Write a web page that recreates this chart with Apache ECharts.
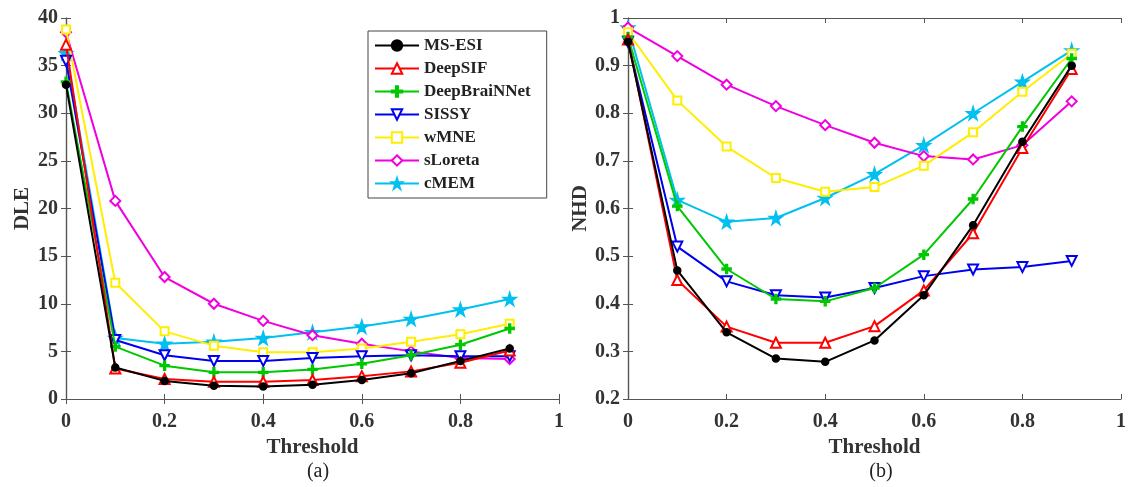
<!DOCTYPE html>
<html>
<head>
<meta charset="utf-8">
<script src="https://cdn.jsdelivr.net/npm/echarts@6/dist/echarts.min.js"></script>
<style>
  html, body { margin: 0; padding: 0; background: #fff; }
  #main { width: 1129px; height: 487px; }
</style>
</head>
<body>
<div id="main"></div>
<script>
var thresholds = [0, 0.1, 0.2, 0.3, 0.4, 0.5, 0.6, 0.7, 0.8, 0.9];
var methods = ['MS-ESI', 'DeepSIF', 'DeepBraiNNet', 'SISSY', 'wMNE', 'sLoreta', 'cMEM'];

// (a) DLE
var dleMsEsi   = [33.0, 3.3, 1.9, 1.4, 1.3, 1.5, 2.0, 2.7, 4.0, 5.3];
var dleDeepSIF = [37.2, 3.2, 2.1, 1.8, 1.8, 2.0, 2.4, 2.9, 3.8, 5.1];
var dleDeepBNN = [33.3, 5.5, 3.5, 2.8, 2.8, 3.1, 3.7, 4.6, 5.7, 7.4];
var dleSissy   = [35.5, 6.2, 4.6, 4.0, 4.0, 4.3, 4.5, 4.6, 4.5, 4.5];
var dleWmne    = [38.8, 12.2, 7.1, 5.6, 4.9, 4.9, 5.3, 6.0, 6.8, 7.9];
var dleSloreta = [38.5, 20.8, 12.8, 10.0, 8.2, 6.7, 5.8, 5.0, 4.3, 4.2];
var dleCmem    = [36.3, 6.4, 5.8, 6.0, 6.4, 7.0, 7.6, 8.4, 9.4, 10.5];

// (b) NHD
var nhdMsEsi   = [0.950, 0.470, 0.340, 0.285, 0.278, 0.323, 0.418, 0.565, 0.740, 0.900];
var nhdDeepSIF = [0.955, 0.450, 0.352, 0.318, 0.318, 0.353, 0.428, 0.548, 0.727, 0.893];
var nhdDeepBNN = [0.960, 0.605, 0.473, 0.410, 0.405, 0.433, 0.503, 0.620, 0.772, 0.915];
var nhdSissy   = [0.950, 0.520, 0.447, 0.418, 0.413, 0.433, 0.458, 0.472, 0.477, 0.490];
var nhdWmne    = [0.970, 0.827, 0.730, 0.664, 0.635, 0.645, 0.690, 0.760, 0.845, 0.925];
var nhdSloreta = [0.980, 0.920, 0.860, 0.815, 0.775, 0.738, 0.710, 0.703, 0.733, 0.825];
var nhdCmem    = [0.980, 0.618, 0.572, 0.580, 0.622, 0.672, 0.733, 0.800, 0.866, 0.932];

var dleData = [dleMsEsi, dleDeepSIF, dleDeepBNN, dleSissy, dleWmne, dleSloreta, dleCmem];
var nhdData = [nhdMsEsi, nhdDeepSIF, nhdDeepBNN, nhdSissy, nhdWmne, nhdSloreta, nhdCmem];

var colors = ['#000000', '#ff0000', '#00c800', '#0000f0', '#ffee00', '#f000e0', '#00c0f0'];
var plusPath = 'path://M4,0 L6,0 L6,4 L10,4 L10,6 L6,6 L6,10 L4,10 L4,6 L0,6 L0,4 L4,4 Z';
var starPath = 'path://M50,0 L61,35 L98,35 L68,57 L79,91 L50,70 L21,91 L32,57 L2,35 L39,35 Z';
var symbols = ['circle', 'emptyTriangle', plusPath, 'emptyTriangle', 'emptyRect', 'emptyDiamond', starPath];
var symbolSizes = [7, 10, 9, 10, 8, 10, 13];
var symbolRotates = [0, 0, 0, 180, 0, 0, 0];

var font = 'Liberation Serif';
var axisColor = '#555';

function makeSeries(data, axisIdx) {
    var out = [];
    for (var i = 0; i < methods.length; i++) {
        var pts = [];
        for (var j = 0; j < thresholds.length; j++) {
            pts.push([thresholds[j], data[i][j]]);
        }
        out.push({
            name: methods[i],
            type: 'line',
            xAxisIndex: axisIdx * 2,
            yAxisIndex: axisIdx * 2,
            data: pts,
            symbol: symbols[i],
            symbolSize: symbolSizes[i],
            symbolRotate: symbolRotates[i],
            showAllSymbol: true,
            lineStyle: { color: colors[i], width: 2 },
            itemStyle: { color: colors[i], borderColor: colors[i], borderWidth: 1.5 },
            z: 10 - i,
            silent: true
        });
    }
    return out;
}

function xAxes(gridIdx) {
    return [{
        gridIndex: gridIdx, type: 'value', min: 0, max: 1, interval: 0.2,
        name: 'Threshold', nameLocation: 'middle', nameGap: 36,
        nameTextStyle: { fontFamily: font, fontWeight: 'bold', fontSize: 21, color: '#333' },
        axisLine: { lineStyle: { color: axisColor, width: 1.2 } },
        axisTick: { inside: true, length: 5, lineStyle: { color: axisColor } },
        axisLabel: { fontFamily: font, fontWeight: 'bold', fontSize: 20, color: '#333', margin: 13 },
        splitLine: { show: false }
    }, {
        gridIndex: gridIdx, type: 'value', min: 0, max: 1, interval: 0.2, position: 'top',
        axisLine: { lineStyle: { color: axisColor, width: 1.2 } },
        axisTick: { inside: true, length: 5, lineStyle: { color: axisColor } },
        axisLabel: { show: false },
        splitLine: { show: false }
    }];
}

function yAxes(gridIdx, name, min, max, step) {
    return [{
        gridIndex: gridIdx, type: 'value', min: min, max: max, interval: step,
        name: name, nameLocation: 'middle', nameGap: 33,
        nameTextStyle: { fontFamily: font, fontWeight: 'bold', fontSize: 21, color: '#333' },
        axisLine: { lineStyle: { color: axisColor, width: 1.2 } },
        axisTick: { inside: true, length: 5, lineStyle: { color: axisColor } },
        axisLabel: {
            fontFamily: font, fontWeight: 'bold', fontSize: 20, color: '#333', margin: 8,
            formatter: function (v) { return String(+v.toFixed(1)); }
        },
        splitLine: { show: false }
    }, {
        gridIndex: gridIdx, type: 'value', min: min, max: max, interval: step, position: 'right',
        axisLine: { lineStyle: { color: axisColor, width: 1.2 } },
        axisTick: { inside: true, length: 5, lineStyle: { color: axisColor } },
        axisLabel: { show: false },
        splitLine: { show: false }
    }];
}

var myChart = echarts.init(document.getElementById('main'));
var option = {
    animation: false,
    backgroundColor: '#fff',
    title: [
        { text: '(a)', left: 313, top: 457, textAlign: 'center',
          textStyle: { fontFamily: font, fontWeight: 'normal', fontSize: 20, color: '#222' } },
        { text: '(b)', left: 876, top: 457, textAlign: 'center',
          textStyle: { fontFamily: font, fontWeight: 'normal', fontSize: 20, color: '#222' } }
    ],
    legend: {
        data: methods,
        orient: 'vertical',
        left: 368, top: 31,
        width: 180,
        padding: [6, 16, 6, 6],
        itemGap: 6,
        itemWidth: 44,
        itemHeight: 13,
        borderColor: '#444',
        borderWidth: 1,
        backgroundColor: '#fff',
        textStyle: { fontFamily: font, fontWeight: 'bold', fontSize: 17, color: '#222', padding: [0, 0, 0, 0] }
    },
    grid: [
        { left: 66, top: 18, width: 493, height: 381 },
        { left: 628, top: 18, width: 493, height: 381 }
    ],
    xAxis: xAxes(0).concat(xAxes(1)),
    yAxis: yAxes(0, 'DLE', 0, 40, 5).concat(yAxes(1, 'NHD', 0.2, 1, 0.1)),
    series: makeSeries(dleData, 0).concat(makeSeries(nhdData, 1))
};
myChart.setOption(option);
</script>
</body>
</html>
